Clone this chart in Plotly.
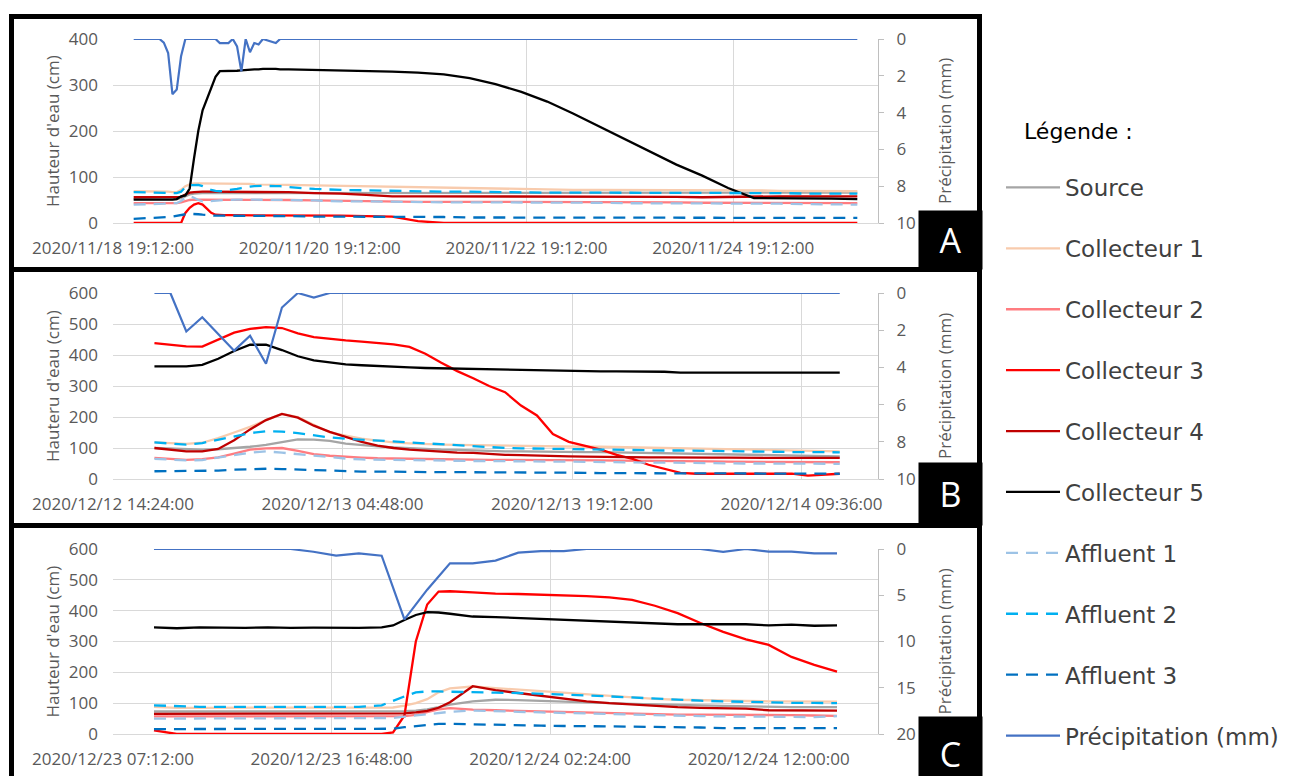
import pandas as pd
import plotly.graph_objects as go

# ---------------------------------------------------------------------------
# Panel A - event of 18-26 Nov 2020 (hours after 2020-11-19 00:00)
# ---------------------------------------------------------------------------
A_START = "2020-11-19 00:00"
A_HOURS = [0, 6, 7, 8, 9, 10, 11, 12, 13, 14, 15, 16, 17, 18, 19, 20, 21, 22, 23, 24,
           25, 26, 27, 28, 29, 30, 33, 34, 36, 42, 48, 54, 60, 66, 72, 78, 84, 90, 96,
           102, 108, 114, 120, 126, 132, 138, 144, 150, 156, 162, 168]
A_SOURCE = [52, 52, 52, 52, 52, 52, 54, 58, 62, 64, 65, 65, 65, 65, 65, 65, 65, 65, 65, 65,
            65, 65, 65, 65, 65, 65, 65, 65, 65, 65, 65, 65, 65, 65, 65, 66, 66, 66, 66,
            66, 66, 66, 66, 66, 66, 66, 66, 66, 66, 66, 66]
A_COLL1 = [69, 69, 68, 68, 67, 67, 72, 80, 84, 86, 86, 86, 86, 86, 85, 85, 85, 85, 85, 85,
           85, 85, 85, 84, 84, 84, 84, 84, 83, 82, 81, 80, 78, 77, 76, 75, 74, 73, 73,
           72, 72, 72, 72, 72, 71, 71, 71, 70, 70, 69, 69]
A_COLL2 = [43, 43, 43, 43, 43, 43, 45, 48, 50, 51, 51, 51, 51, 51, 51, 51, 51, 51, 51, 51,
           51, 51, 51, 51, 51, 51, 50, 50, 50, 49, 48, 47, 47, 46, 46, 46, 45, 45, 45,
           45, 45, 45, 45, 45, 44, 44, 44, 44, 43, 43, 43]
A_COLL3 = [0, 0, 0, 0, 0, 0, 0, 22, 33, 40, 43, 40, 32, 22, 18, 17, 17, 17, 17, 17,
           17, 17, 17, 17, 17, 17, 17, 17, 17, 16, 16, 15, 14, 4, 0, 0, 0, 0, 0,
           0, 0, 0, 0, 0, 0, 0, 0, 0, 0, 0, 0]
A_COLL4 = [56, 56, 56, 56, 56, 56, 57, 62, 66, 67, 68, 68, 68, 68, 68, 68, 68, 68, 68, 68,
           68, 68, 68, 67, 67, 67, 67, 67, 67, 65, 64, 61, 58, 58, 58, 58, 58, 58, 58,
           58, 58, 58, 58, 57, 56, 57, 58, 58, 58, 58, 58]
A_COLL5 = [51, 51, 50, 51, 51, 52, 58, 60, 75, 140, 200, 245, 268, 292, 318, 330, 330, 330,
           331, 331, 332, 333, 333, 334, 334, 335, 335, 334, 334, 333, 332, 330, 329, 327,
           323, 315, 302, 285, 264, 238, 210, 182, 155, 127, 103, 76, 54, 54, 54, 53, 52]
A_AFF1 = [40, 41, 42, 43, 43, 43, 48, 55, 58, 55, 50, 47, 47, 48, 49, 50, 50, 50, 51, 51,
          51, 51, 51, 51, 51, 51, 50, 50, 50, 49, 47, 47, 46, 46, 45, 45, 45, 44, 44,
          44, 44, 43, 43, 43, 43, 42, 42, 42, 41, 41, 40]
A_AFF2 = [67, 66, 65, 65, 65, 65, 68, 78, 82, 83, 83, 80, 76, 72, 70, 69, 70, 71, 72, 74,
          76, 78, 79, 80, 81, 81, 80, 80, 78, 74, 72, 71, 69, 69, 68, 68, 67, 67, 66,
          66, 66, 66, 66, 65, 65, 65, 65, 65, 64, 64, 64]
A_AFF3 = [9, 11, 12, 13, 14, 16, 18, 19, 20, 20, 19, 18, 17, 16, 16, 16, 16, 16, 16, 15,
          15, 15, 15, 15, 15, 15, 15, 15, 15, 14, 14, 14, 13, 13, 13, 12, 12, 12, 12,
          11, 11, 11, 11, 11, 11, 11, 11, 11, 11, 11, 11]
A_PRECIP = [0, 0, 0.2, 0.76, 3.0, 2.75, 0.94, 0, 0, 0, 0, 0, 0, 0, 0, 0.22, 0.22, 0.22, 0,
            0.4, 1.76, 0, 0.72, 0.22, 0.3, 0, 0.22, 0, 0, 0, 0, 0, 0, 0, 0, 0, 0, 0, 0,
            0, 0, 0, 0, 0, 0, 0, 0, 0, 0, 0, 0]
A_XRANGE = ["2020-11-18 19:12", "2020-11-26 04:48"]
A_TICKVALS = ["2020-11-18 19:12", "2020-11-20 19:12", "2020-11-22 19:12", "2020-11-24 19:12"]
A_TICKTEXT = ["2020/11/18 19:12:00", "2020/11/20 19:12:00", "2020/11/22 19:12:00",
              "2020/11/24 19:12:00"]

# ---------------------------------------------------------------------------
# Panel B - event of 12-14 Dec 2020 (hourly from 2020-12-12 17:00)
# ---------------------------------------------------------------------------
B_START = "2020-12-12 17:00"
B_SOURCE = [100, 98, 96, 95, 96, 99, 104, 110, 120, 128, 127, 123, 114, 109, 105, 102, 99,
            97, 95, 94, 92, 91, 89, 89, 88, 88, 88, 87, 87, 86, 86, 85, 84, 82, 81, 80,
            79, 78, 77, 76, 75, 74, 74, 73]
B_COLL1 = [118, 115, 113, 117, 132, 150, 168, 190, 210, 200, 176, 150, 140, 130, 124, 118,
           115, 112, 111, 110, 109, 108, 107, 106, 106, 105, 105, 104, 104, 103, 102, 101,
           100, 99, 98, 97, 96, 95, 94, 93, 92, 91, 90, 89]
B_COLL2 = [68, 65, 62, 64, 70, 82, 95, 99, 100, 91, 80, 75, 71, 69, 67, 66, 65, 64, 64, 63,
           63, 62, 62, 62, 61, 61, 61, 60, 60, 59, 59, 59, 58, 58, 57, 57, 56, 56, 56, 55,
           55, 55, 54, 54]
B_COLL3 = [438, 433, 428, 427, 449, 472, 484, 490, 487, 470, 458, 452, 447, 443, 438, 434,
           426, 404, 375, 348, 325, 300, 280, 237, 205, 145, 120, 108, 95, 78, 65, 46, 33,
           20, 17, 17, 17, 17, 17, 17, 17, 11, 14, 17]
B_COLL4 = [100, 95, 89, 89, 97, 125, 160, 190, 210, 198, 172, 152, 137, 120, 108, 100, 95,
           91, 88, 85, 84, 80, 78, 77, 75, 74, 73, 72, 71, 70, 70, 70, 70, 69, 69, 69, 69,
           68, 68, 68, 68, 68, 68, 68]
B_COLL5 = [363, 363, 363, 368, 388, 413, 433, 433, 416, 396, 383, 376, 370, 367, 364, 362,
           360, 358, 357, 356, 355, 353, 351, 351, 350, 350, 349, 348, 347, 347, 347, 347,
           346, 343, 343, 343, 343, 343, 343, 343, 343, 343, 343, 343]
B_AFF1 = [65, 62, 60, 61, 68, 77, 85, 89, 85, 80, 74, 70, 66, 63, 62, 61, 60, 60, 59, 59,
          58, 58, 57, 57, 56, 56, 56, 55, 55, 54, 54, 53, 53, 52, 52, 51, 51, 50, 50, 50,
          49, 49, 49, 49]
B_AFF2 = [118, 115, 111, 116, 126, 138, 148, 154, 153, 148, 141, 134, 130, 127, 124, 120,
          118, 114, 111, 109, 107, 104, 100, 99, 98, 97, 96, 96, 95, 95, 94, 93, 92, 92, 91,
          90, 89, 89, 88, 88, 87, 87, 86, 86]
B_AFF3 = [25, 25, 25, 25, 27, 30, 32, 33, 32, 30, 28, 26, 25, 24, 24, 23, 23, 23, 22, 22,
          22, 22, 22, 21, 21, 21, 20, 20, 19, 19, 18, 18, 17, 17, 17, 17, 17, 17, 17, 17,
          17, 17, 17, 17]
B_PRECIP = [0, 0, 2.07, 1.3, 2.2, 3.1, 2.3, 3.8, 0.78, 0, 0.25, 0, 0, 0, 0, 0, 0, 0, 0, 0,
            0, 0, 0, 0, 0, 0, 0, 0, 0, 0, 0, 0, 0, 0, 0, 0, 0, 0, 0, 0, 0, 0, 0, 0]
B_XRANGE = ["2020-12-12 14:24", "2020-12-14 14:24"]
B_TICKVALS = ["2020-12-12 14:24", "2020-12-13 04:48", "2020-12-13 19:12", "2020-12-14 09:36"]
B_TICKTEXT = ["2020/12/12 14:24:00", "2020/12/13 04:48:00", "2020/12/13 19:12:00",
              "2020/12/14 09:36:00"]

# ---------------------------------------------------------------------------
# Panel C - event of 23-24 Dec 2020 (hours after 2020-12-23 09:00)
# ---------------------------------------------------------------------------
C_START = "2020-12-23 09:00"
C_HOURS = [0, 1, 2, 3, 4, 5, 6, 7, 8, 9, 10, 10.5, 11, 11.5, 12, 12.5, 13, 14, 15, 16, 17,
           18, 19, 20, 21, 22, 23, 24, 25, 26, 27, 28, 29, 30]
C_SOURCE = [73, 73, 73, 73, 73, 73, 73, 73, 73, 73, 73, 73, 74, 76, 80, 87, 95, 106, 111,
            110, 107, 105, 103, 100, 98, 97, 95, 93, 91, 89, 87, 87, 87, 87]
C_COLL1 = [88, 85, 85, 85, 85, 85, 85, 85, 85, 85, 85, 86, 92, 100, 113, 135, 148, 154, 149,
           144, 139, 132, 127, 122, 118, 114, 111, 109, 108, 107, 106, 106, 106, 105]
C_COLL2 = [57, 57, 57, 57, 57, 57, 57, 57, 57, 57, 57, 57, 58, 62, 70, 80, 84, 79, 77, 75,
           73, 71, 69, 68, 66, 64, 63, 63, 63, 63, 63, 61, 60, 59]
C_COLL3 = [12, 0, 0, 0, 0, 0, 0, 0, 0, 0, 0, 5, 60, 300, 420, 462, 463, 459, 455, 454, 452,
           450, 447, 443, 435, 416, 392, 360, 331, 307, 289, 250, 224, 202]
C_COLL4 = [65, 65, 65, 65, 65, 65, 65, 65, 65, 65, 65, 66, 67, 70, 75, 85, 103, 155, 142,
           133, 124, 114, 106, 100, 95, 91, 87, 85, 84, 82, 77, 77, 76, 76]
C_COLL5 = [346, 343, 346, 345, 344, 346, 344, 345, 344, 344, 346, 352, 370, 386, 395, 394,
           390, 381, 379, 376, 372, 369, 366, 364, 361, 358, 356, 356, 356, 356, 352, 355,
           351, 352]
C_AFF1 = [50, 50, 50, 50, 50, 50, 50, 50, 50, 50, 50, 52, 56, 60, 64, 68, 72, 76, 73, 72,
          70, 68, 66, 64, 62, 60, 59, 58, 57, 57, 57, 56, 55, 58]
C_AFF2 = [93, 90, 88, 88, 88, 88, 88, 88, 88, 88, 93, 108, 122, 135, 138, 138, 137, 134,
          134, 133, 131, 128, 125, 122, 118, 114, 111, 108, 106, 104, 102, 101, 101, 100]
C_AFF3 = [16, 16, 16, 16, 16, 16, 16, 16, 16, 16, 16, 17, 22, 26, 31, 33, 33, 31, 30, 29,
          27, 26, 26, 25, 24, 23, 23, 21, 19, 19, 19, 19, 19, 19]
# rainfall is hourly from 2020-12-23 09:00
C_PRECIP = [0, 0, 0, 0, 0, 0, 0, 0.3, 0.72, 0.47, 0.72, 7.6, 4.4, 1.55, 1.55, 1.26, 0.4,
            0.22, 0.22, 0, 0, 0, 0, 0, 0, 0.32, 0, 0.29, 0.29, 0.47, 0.47]
C_XRANGE = ["2020-12-23 07:12", "2020-12-24 16:48"]
C_TICKVALS = ["2020-12-23 07:12", "2020-12-23 16:48", "2020-12-24 02:24", "2020-12-24 12:00"]
C_TICKTEXT = ["2020/12/23 07:12:00", "2020/12/23 16:48:00", "2020/12/24 02:24:00",
              "2020/12/24 12:00:00"]

# ---------------------------------------------------------------------------
# Series styling
# ---------------------------------------------------------------------------
LEVEL_NAMES = ["Source", "Collecteur 1", "Collecteur 2", "Collecteur 3", "Collecteur 4",
               "Collecteur 5", "Affluent 1", "Affluent 2", "Affluent 3"]
LEVEL_COLORS = ["#A5A5A5", "#F8CBAD", "#FF7C80", "#FF0000", "#C00000", "#000000",
                "#9DC3E6", "#00B0F0", "#0070C0"]
LEVEL_DASHED = [False, False, False, False, False, False, True, True, True]
RAIN_NAME = "Précipitation (mm)"
RAIN_COLOR = "#4472C4"

W, H = 1290, 776
FONT = "Open Sans"
TICK_COLOR = "#595959"
GRID_COLOR = "#D9D9D9"


def px(x):
    return x / W


def py(y):
    return 1 - y / H


def hours_to_times(start, hours):
    return pd.Timestamp(start) + pd.to_timedelta(hours, unit="h")


def hourly(start, n):
    return pd.date_range(start, periods=n, freq="h")


panels = [
    dict(letter="A", top=39, bottom=223, ymax=400, rmax=10, rdtick=2,
         ytitle="Hauteur d'eau (cm)",
         t_level=hours_to_times(A_START, A_HOURS),
         levels=[A_SOURCE, A_COLL1, A_COLL2, A_COLL3, A_COLL4, A_COLL5, A_AFF1, A_AFF2, A_AFF3],
         t_rain=hours_to_times(A_START, A_HOURS), rain=A_PRECIP,
         xrange=A_XRANGE, tickvals=A_TICKVALS, ticktext=A_TICKTEXT,
         box=(919, 211, 982, 269)),
    dict(letter="B", top=293, bottom=479, ymax=600, rmax=10, rdtick=2,
         ytitle="Hauteru d'eau (cm)",
         t_level=hourly(B_START, len(B_SOURCE)),
         levels=[B_SOURCE, B_COLL1, B_COLL2, B_COLL3, B_COLL4, B_COLL5, B_AFF1, B_AFF2, B_AFF3],
         t_rain=hourly(B_START, len(B_PRECIP)), rain=B_PRECIP,
         xrange=B_XRANGE, tickvals=B_TICKVALS, ticktext=B_TICKTEXT,
         box=(919, 463, 982, 525)),
    dict(letter="C", top=549, bottom=734, ymax=600, rmax=20, rdtick=5,
         ytitle="Hauteur d'eau (cm)",
         t_level=hours_to_times(C_START, C_HOURS),
         levels=[C_SOURCE, C_COLL1, C_COLL2, C_COLL3, C_COLL4, C_COLL5, C_AFF1, C_AFF2, C_AFF3],
         t_rain=hourly(C_START, len(C_PRECIP)), rain=C_PRECIP,
         xrange=C_XRANGE, tickvals=C_TICKVALS, ticktext=C_TICKTEXT,
         box=(919, 717, 982, 790)),
]

PLOT_LEFT, PLOT_RIGHT = 113, 878

fig = go.Figure()
layout = {}
annotations = []
shapes = []
boxes = []

for i, p in enumerate(panels):
    n = i + 1
    xname = "x" if n == 1 else f"x{n}"
    yl = 2 * n - 1
    yr = 2 * n
    ylname = "y" if yl == 1 else f"y{yl}"
    yrname = f"y{yr}"
    xkey = "xaxis" if n == 1 else f"xaxis{n}"
    ylkey = "yaxis" if yl == 1 else f"yaxis{yl}"
    yrkey = f"yaxis{yr}"

    for name, color, dashed, vals in zip(LEVEL_NAMES, LEVEL_COLORS, LEVEL_DASHED, p["levels"]):
        fig.add_trace(go.Scatter(
            x=p["t_level"], y=vals, mode="lines", name=name, legendgroup=name,
            showlegend=(n == 1), xaxis=xname, yaxis=ylname,
            line=dict(color=color, width=2.3, dash="12px,8px" if dashed else "solid"),
        ))
    fig.add_trace(go.Scatter(
        x=p["t_rain"], y=p["rain"], mode="lines", name=RAIN_NAME, legendgroup=RAIN_NAME,
        showlegend=(n == 1), xaxis=xname, yaxis=yrname,
        line=dict(color=RAIN_COLOR, width=2.2),
    ))

    ydom = [py(p["bottom"]), py(p["top"])]
    tickfont = dict(family=FONT, size=17, color=TICK_COLOR)
    layout[xkey] = dict(
        domain=[px(PLOT_LEFT), px(PLOT_RIGHT)], anchor=ylname, type="date",
        range=p["xrange"], tickmode="array", tickvals=p["tickvals"], ticktext=p["ticktext"],
        showgrid=True, gridcolor=GRID_COLOR, gridwidth=1, showline=True,
        linecolor=GRID_COLOR, linewidth=1, ticks="", tickfont=tickfont,
        ticklabelstandoff=10, zeroline=False, fixedrange=True,
    )
    layout[ylkey] = dict(
        domain=ydom, anchor=xname, range=[0, p["ymax"]], dtick=100, tick0=0,
        showgrid=True, gridcolor=GRID_COLOR, gridwidth=1, zeroline=False,
        showline=False, ticks="", tickfont=tickfont, ticklabelstandoff=14,
    )
    layout[yrkey] = dict(
        overlaying=ylname, side="right", anchor=xname, range=[p["rmax"], 0],
        dtick=p["rdtick"], tick0=0, showgrid=False, zeroline=False, showline=True,
        linecolor="#BFBFBF", linewidth=1, ticks="outside", ticklen=5, tickcolor="#BFBFBF",
        tickfont=tickfont, ticklabelstandoff=9,
    )

    ymid = (p["top"] + p["bottom"]) / 2
    annotations.append(dict(
        text=p["ytitle"], x=px(52), y=py(ymid), xref="paper", yref="paper",
        showarrow=False, textangle=-90, font=dict(family=FONT, size=17, color=TICK_COLOR),
        xanchor="center", yanchor="middle"))
    annotations.append(dict(
        text="Précipitation (mm)", x=px(944), y=py(ymid), xref="paper", yref="paper",
        showarrow=False, textangle=-90, font=dict(family=FONT, size=17, color=TICK_COLOR),
        xanchor="center", yanchor="middle"))

    bx0, by0, bx1, by1 = p["box"]
    boxes.append(dict(
        text=p["letter"], x=px((bx0 + bx1) / 2), y=py((by0 + by1) / 2),
        xref="paper", yref="paper", showarrow=False, width=bx1 - bx0, height=by1 - by0,
        bgcolor="#000000", borderpad=0, align="center", valign="middle",
        font=dict(family=FONT, size=34, color="#FFFFFF"),
        xanchor="center", yanchor="middle"))

# panel frames
for y0, y1 in [(16.5, 269.5), (269.5, 525.5), (525.5, 800)]:
    shapes.append(dict(type="rect", xref="paper", yref="paper",
                       x0=px(11.5), x1=px(979.5), y0=py(y1), y1=py(y0),
                       line=dict(color="#000000", width=5), fillcolor="rgba(0,0,0,0)",
                       layer="above"))

annotations.append(dict(
    text="Légende :", x=px(1022), y=py(131), xref="paper", yref="paper", showarrow=False,
    xanchor="left", yanchor="middle", font=dict(family="DejaVu Sans", size=22, color="#000000")))

fig.update_layout(
    width=W, height=H, margin=dict(l=0, r=0, t=0, b=0, autoexpand=False),
    paper_bgcolor="#FFFFFF", plot_bgcolor="#FFFFFF",
    showlegend=True,
    legend=dict(
        x=px(1001), y=py(166), xanchor="left", yanchor="top",
        traceorder="grouped", tracegroupgap=28.0, itemwidth=54,
        font=dict(family="DejaVu Sans", size=23, color="#404040"),
        bgcolor="rgba(0,0,0,0)", borderwidth=0,
    ),
    annotations=annotations + boxes,
    shapes=shapes,
    **layout,
)

fig.write_html("out.html")
